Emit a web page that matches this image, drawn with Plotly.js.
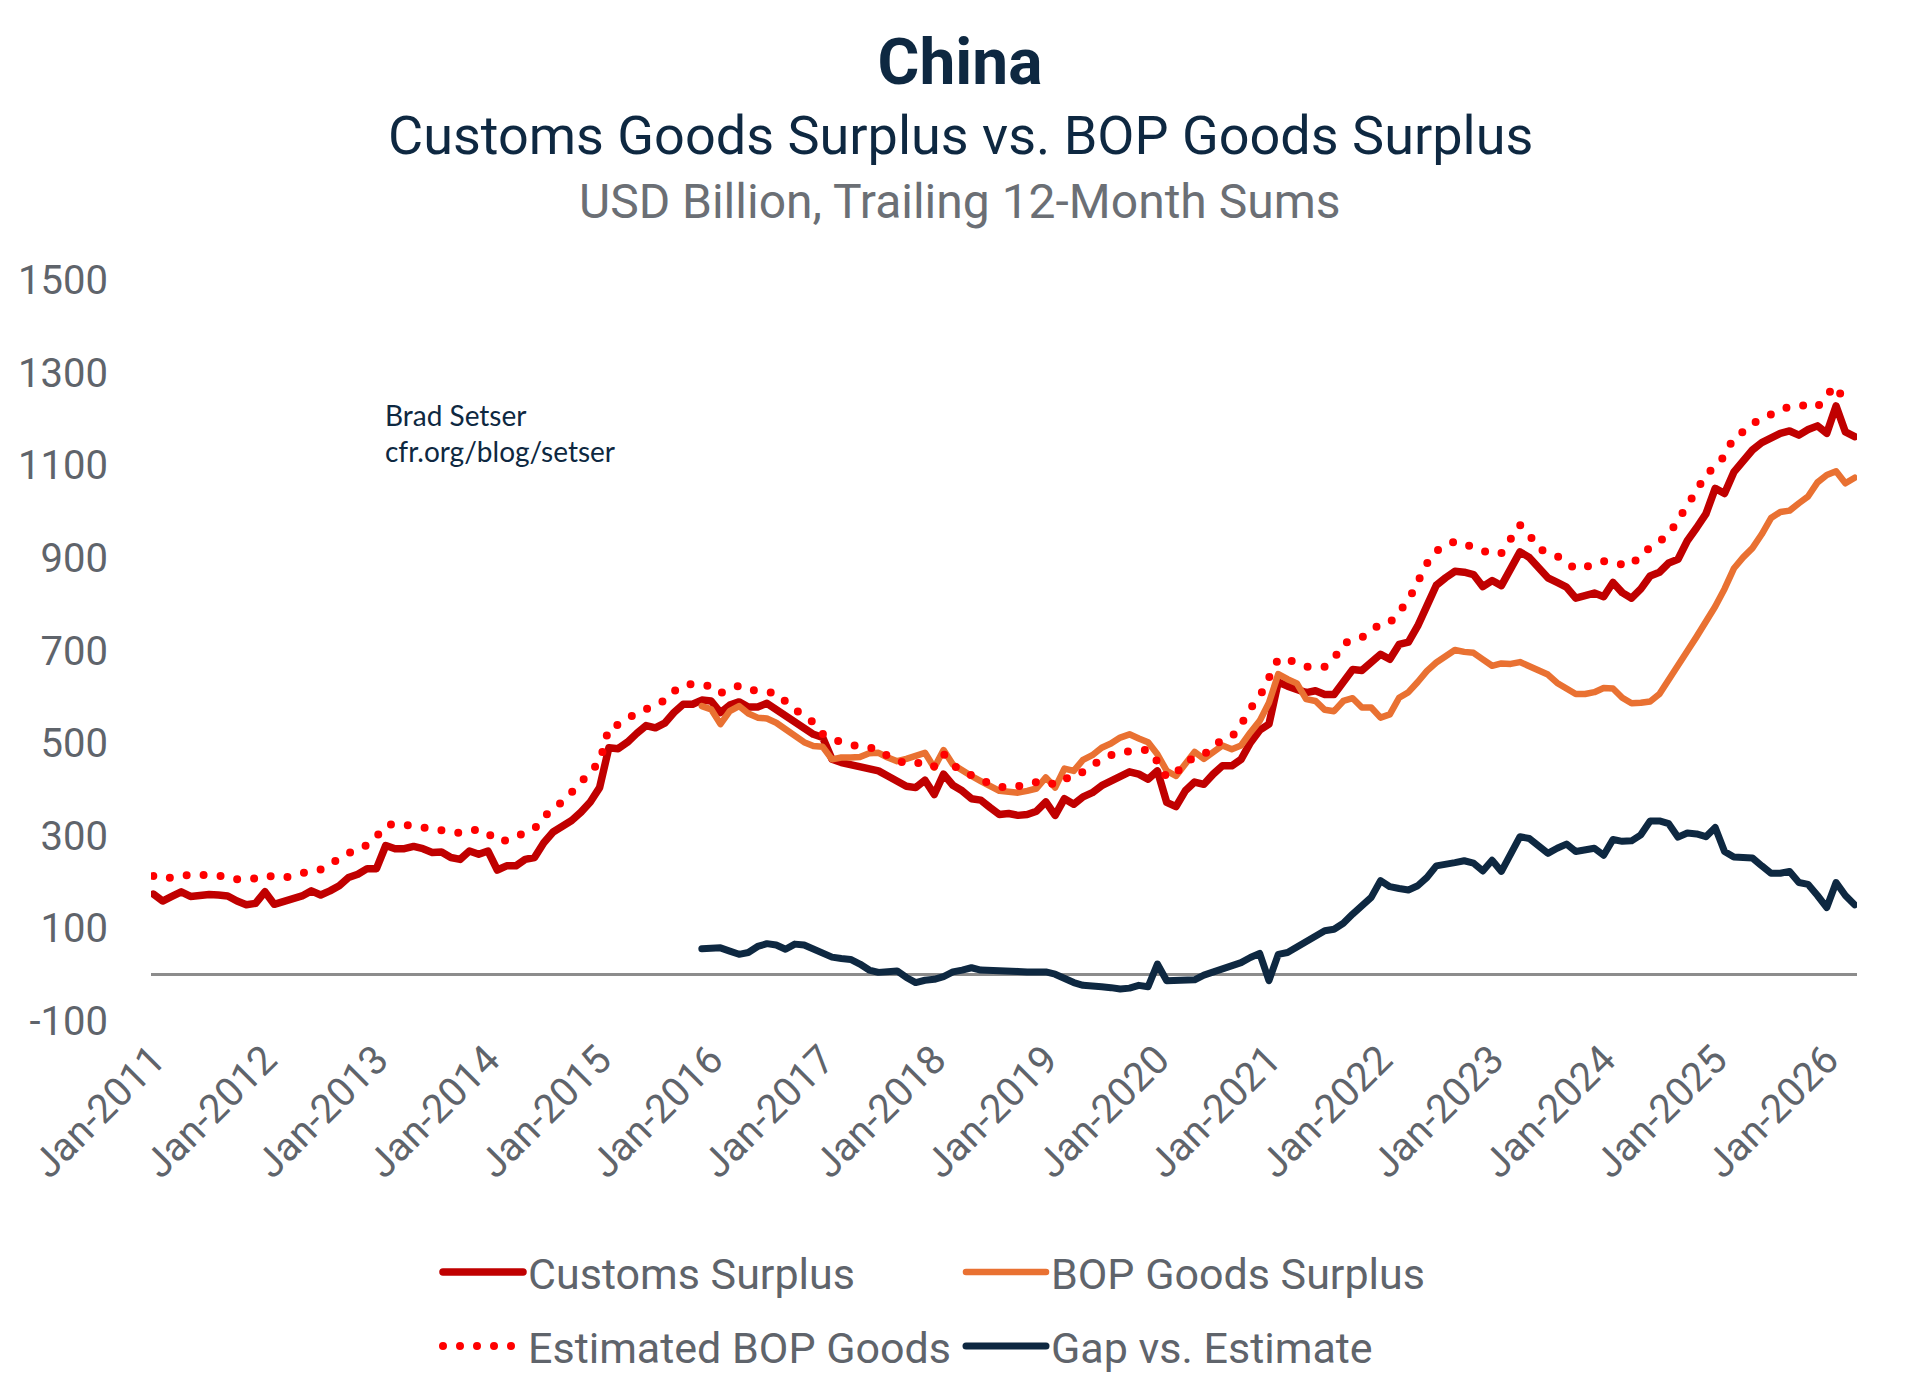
<!DOCTYPE html>
<html>
<head>
<meta charset="utf-8">
<script src="https://cdn.plot.ly/plotly-3.0.1.min.js"></script>
<style>
html,body{margin:0;padding:0;background:#fff;}
#chart{width:1920px;height:1395px;}
.js-line{stroke-linecap:round;stroke-linejoin:round;}
</style>
</head>
<body>
<div id="chart"></div>
<script>
// ---- categories: monthly, Jan-2011 .. Apr-2026 ----
const monthNames = ['Jan','Feb','Mar','Apr','May','Jun','Jul','Aug','Sep','Oct','Nov','Dec'];
const startYear = 2011;
const nMonths = 184;
const months = [];
for (let i = 0; i < nMonths; i++) {
  months.push(monthNames[i % 12] + '-' + (startYear + Math.floor(i / 12)));
}
const tickLabels = ['Jan-2011','Jan-2012','Jan-2013','Jan-2014','Jan-2015','Jan-2016','Jan-2017','Jan-2018',
  'Jan-2019','Jan-2020','Jan-2021','Jan-2022','Jan-2023','Jan-2024','Jan-2025','Jan-2026'];
const yTickVals = [-100,100,300,500,700,900,1100,1300,1500];
const yTickText = ['-100','100','300','500','700','900','1100','1300','1500'];

// ---- series (USD bn, trailing 12-month sums) ----
const customsSurplus = [
  174,159,169,179,169,172,173,172,170,159,151,154,
  179,152,158,164,170,181,172,181,192,210,217,229,
  229,279,272,272,277,272,264,265,253,249,267,260,
  267,226,235,235,249,253,285,308,321,333,351,373,
  404,490,488,502,521,538,533,543,566,584,584,593,
  591,566,582,589,578,578,586,573,558,546,535,519,
  512,465,458,454,449,445,440,429,418,407,404,420,
  389,433,409,397,380,377,361,346,348,344,346,353,
  373,344,380,368,384,393,408,418,427,438,433,422,
  440,372,363,397,416,411,433,451,451,465,501,528,
  541,632,623,618,609,613,605,605,634,659,657,674,
  692,681,713,718,753,797,841,857,871,869,864,838,
  851,840,875,913,901,877,857,847,837,813,817,824,
  816,847,825,813,833,861,869,889,897,937,965,995,
  1050,1039,1085,1111,1133,1149,1161,1169,1174,1165,1177,1185,
  1169,1228,1172,1162
];
const estimatedBop = [
  213,207,210,214,216,216,215,215,212,206,207,208,
  214,210,209,214,220,224,227,240,252,262,272,280,
  298,322,326,325,321,318,315,312,309,306,310,314,
  305,288,290,297,305,315,340,360,373,392,415,440,
  458,533,540,552,566,573,583,592,612,625,628,626,
  623,608,617,624,616,612,612,608,590,572,557,545,
  520,508,502,496,492,490,487,472,462,455,456,460,
  450,477,452,440,430,420,413,406,404,405,410,416,
  418,410,424,425,440,452,465,474,481,482,484,486,
  460,426,434,460,468,474,497,505,513,540,575,600,
  645,682,681,673,665,665,665,682,715,722,728,745,
  756,760,782,808,848,888,915,928,936,930,922,914,
  908,910,941,971,950,920,912,904,890,876,880,886,
  893,888,886,884,908,920,936,950,980,1012,1045,1080,
  1097,1120,1160,1172,1190,1200,1211,1220,1226,1230,1228,1226,
  1252,1271,1234
];
// BOP goods surplus and gap begin Dec-2015
const bopStart = 'Dec-2015';
const bopGoodsSurplus = [
  580,
  573,541,569,580,564,555,553,544,530,514,502,494,
  492,465,469,469,470,478,479,469,461,466,472,479,
  447,485,454,440,429,418,407,397,395,393,397,402,
  426,404,445,440,464,474,490,499,512,519,510,502,
  476,440,429,458,481,466,479,495,487,495,523,548,
  587,649,638,629,595,591,572,569,591,597,577,577,
  555,562,598,610,632,656,674,688,701,697,695,681,
  667,672,671,675,667,658,648,630,616,606,606,610,
  619,618,598,586,587,590,606,635,670,699,730,761,
  795,833,877,901,921,951,986,999,1002,1018,1033,1063,
  1079,1087,1061,1073
];
const gapVsEstimate = [
  56,
  58,58,51,44,48,61,67,64,55,66,64,54,
  46,38,35,33,23,10,5,6,8,-6,-17,-12,
  -10,-4,6,10,15,10,10,7,7,7,6,5,
  6,1,-10,-17,-23,-23,-26,-28,-31,-29,-23,-26,
  23,-13,-13,-10,-11,-1,5,13,20,26,37,46,
  -13,44,48,59,73,80,95,98,111,131,147,167,
  203,190,186,183,192,210,235,240,242,246,241,224,
  247,223,262,298,294,276,262,273,282,266,268,273,
  258,292,288,289,302,332,332,326,297,306,304,298,
  318,266,254,252,252,235,219,219,223,199,195,171,
  145,199,171,151
];

const navy = '#0E2841';
const gray = '#5F646B';
const font = 'Roboto, "Liberation Sans", Arial, sans-serif';
const i0 = months.indexOf(bopStart);

const traces = [
  {x: months, y: customsSurplus, name: 'Customs Surplus', type: 'scatter', mode: 'lines',
   line: {color: '#C00000', width: 7.5}, legend: 'legend'},
  {x: months.slice(i0), y: bopGoodsSurplus, name: 'BOP Goods Surplus', type: 'scatter', mode: 'lines',
   line: {color: '#E97132', width: 6.5}, legend: 'legend'},
  {x: months.slice(0, estimatedBop.length), y: estimatedBop, name: 'Estimated BOP Goods', type: 'scatter', mode: 'lines',
   line: {color: '#FF0000', width: 8, dash: '0px,17px'}, legend: 'legend2'},
  {x: months.slice(i0), y: gapVsEstimate, name: 'Gap vs. Estimate', type: 'scatter', mode: 'lines',
   line: {color: navy, width: 7}, legend: 'legend2'}
];

const plotL = 151, plotR = 1857, plotT = 280, plotB = 1021;
const pw = plotR - plotL, ph = plotB - plotT;
const px = v => (v - plotL) / pw;
const py = v => (plotB - v) / ph;

const legendCommon = {
  orientation: 'h', xref: 'container', yref: 'container',
  xanchor: 'left', yanchor: 'middle',
  font: {family: font, size: 43, color: gray},
  itemwidth: 80, entrywidth: 428, entrywidthmode: 'pixels',
  bgcolor: 'rgba(0,0,0,0)', borderwidth: 0, traceorder: 'normal',
  itemclick: false, itemdoubleclick: false
};

const layout = {
  width: 1920, height: 1395,
  margin: {l: plotL, r: 1920 - plotR, t: plotT, b: 1395 - plotB, pad: 0},
  paper_bgcolor: '#fff', plot_bgcolor: '#fff',
  font: {family: font, color: gray},
  title: {text: '<b>China</b>', font: {family: font, size: 64, color: navy},
          x: 0.5, xref: 'container', xanchor: 'center',
          y: 1 - 62 / 1395, yref: 'container', yanchor: 'middle'},
  showlegend: true,
  legend: Object.assign({}, legendCommon, {x: 438 / 1920, y: 1 - 1272 / 1395}),
  legend2: Object.assign({}, legendCommon, {x: 438 / 1920, y: 1 - 1346 / 1395}),
  xaxis: {
    type: 'category', range: [-0.25, nMonths - 0.75],
    tickmode: 'array', tickvals: tickLabels, ticktext: tickLabels,
    tickangle: -45, tickfont: {family: font, size: 40, color: gray},
    showgrid: false, zeroline: false, showline: false, ticks: '',
    ticklabelstandoff: 6, fixedrange: true
  },
  yaxis: {
    range: [-100, 1500], tickmode: 'array', tickvals: yTickVals, ticktext: yTickText,
    tickfont: {family: font, size: 40, color: gray},
    showgrid: false, showline: false, ticks: '',
    zeroline: true, zerolinecolor: '#8C8C8C', zerolinewidth: 2.5,
    ticklabelstandoff: 42, fixedrange: true
  },
  annotations: [
    {text: 'Customs Goods Surplus vs. BOP Goods Surplus', xref: 'paper', yref: 'paper',
     x: px(960), y: py(136), xanchor: 'center', yanchor: 'middle', showarrow: false,
     font: {family: font, size: 54, color: navy}},
    {text: 'USD Billion, Trailing 12-Month Sums', xref: 'paper', yref: 'paper',
     x: px(960), y: py(202), xanchor: 'center', yanchor: 'middle', showarrow: false,
     font: {family: font, size: 48, color: '#6B6F75'}},
    {text: 'Brad Setser<br>cfr.org/blog/setser', xref: 'paper', yref: 'paper',
     x: px(383), y: py(433), xanchor: 'left', yanchor: 'middle', align: 'left', showarrow: false,
     font: {family: 'Lato, Roboto, sans-serif', size: 28, color: navy}}
  ]
};

Plotly.newPlot('chart', traces, layout, {staticPlot: true, displayModeBar: false});
</script>
</body>
</html>
